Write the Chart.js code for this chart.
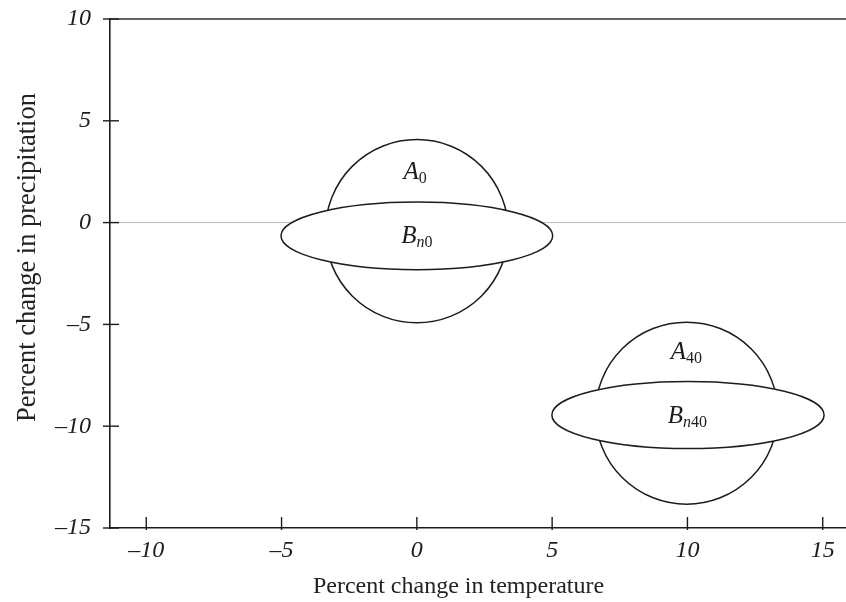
<!DOCTYPE html>
<html>
<head>
<meta charset="utf-8">
<script src="https://cdn.jsdelivr.net/npm/chart.js@4.4.0/dist/chart.umd.min.js"></script>
<style>
  html, body { margin: 0; padding: 0; background: #fff; }
  #wrap { width: 846px; height: 602px; }
</style>
</head>
<body>
<div id="wrap"><canvas id="regions" width="846" height="602"></canvas></div>
<script>
// axis ticks
const xTicks = [-10, -5, 0, 5, 10, 15];
const yTicks = [-15, -10, -5, 0, 5, 10];

// regions: centre and half-extent in data units (temperature %, precipitation %)
const regionLetter = ['A', 'B', 'A', 'B'];
const regionSub = ['0', 'n0', '40', 'n40'];
const centerTemp = [0, 0, 9.97, 10.02];
const centerPrecip = [-0.42, -0.65, -9.36, -9.45];
const halfTemp = [3.38, 5.02, 3.37, 5.03];
const halfPrecip = [4.5, 1.66, 4.47, 1.65];
const labelTemp = [-0.06, 0.0, 9.96, 10.0];
const labelPrecip = [2.54, -0.57, -6.3, -9.42];

const INK = '#1c1c1c';
const SERIF = '"Liberation Serif", "Times New Roman", serif';

function fmtTick(v) {
  return v < 0 ? '\u2013' + Math.abs(v) : String(v);
}

function drawRegionLabel(ctx, cx, cy, letter, sub) {
  const mainFont = 'italic 25px ' + SERIF;
  const subFont = 'italic 16px ' + SERIF;
  const digitFont = '16px ' + SERIF;
  ctx.font = mainFont;
  const wMain = ctx.measureText(letter).width;
  let wSub = 0;
  const parts = sub.split('').map(ch => {
    const f = /[0-9]/.test(ch) ? digitFont : subFont;
    ctx.font = f;
    const w = ctx.measureText(ch).width;
    wSub += w;
    return { ch, f, w };
  });
  let x = cx - (wMain + wSub) / 2;
  const base = cy + 8.5;
  ctx.textAlign = 'left';
  ctx.textBaseline = 'alphabetic';
  ctx.fillStyle = INK;
  ctx.font = mainFont;
  ctx.fillText(letter, x, base);
  x += wMain;
  parts.forEach(p => {
    ctx.font = p.f;
    ctx.fillText(p.ch, x, base + 4);
    x += p.w;
  });
}

const regionPlugin = {
  id: 'regionPlugin',
  afterDatasetsDraw(chart) {
    const { ctx, chartArea, scales: { x, y } } = chart;
    ctx.save();

    // zero precipitation line
    const y0 = y.getPixelForValue(0);
    ctx.strokeStyle = '#bdbdbd';
    ctx.lineWidth = 1;
    ctx.beginPath();
    ctx.moveTo(chartArea.left, y0);
    ctx.lineTo(chartArea.right, y0);
    ctx.stroke();

    // top frame line
    ctx.strokeStyle = '#333';
    ctx.lineWidth = 1.6;
    ctx.beginPath();
    ctx.moveTo(chartArea.left, chartArea.top);
    ctx.lineTo(chartArea.right, chartArea.top);
    ctx.stroke();

    // tick marks, crossing the axes
    ctx.strokeStyle = INK;
    ctx.lineWidth = 1.4;
    xTicks.forEach(v => {
      const px = x.getPixelForValue(v);
      ctx.beginPath();
      ctx.moveTo(px, chartArea.bottom + 2);
      ctx.lineTo(px, chartArea.bottom - 11);
      ctx.stroke();
    });
    yTicks.forEach(v => {
      const py = y.getPixelForValue(v);
      ctx.beginPath();
      ctx.moveTo(chartArea.left - 7, py);
      ctx.lineTo(chartArea.left + 9, py);
      ctx.stroke();
    });

    // circles then flat ellipses on top
    for (let i = 0; i < centerTemp.length; i++) {
      const cx = x.getPixelForValue(centerTemp[i]);
      const cy = y.getPixelForValue(centerPrecip[i]);
      const rx = Math.abs(x.getPixelForValue(centerTemp[i] + halfTemp[i]) - cx);
      const ry = Math.abs(y.getPixelForValue(centerPrecip[i] + halfPrecip[i]) - cy);
      ctx.beginPath();
      ctx.ellipse(cx, cy, rx, ry, 0, 0, Math.PI * 2);
      ctx.fillStyle = '#fff';
      ctx.fill();
      ctx.strokeStyle = INK;
      ctx.lineWidth = 1.5;
      ctx.stroke();
    }

    for (let i = 0; i < regionLetter.length; i++) {
      drawRegionLabel(ctx, x.getPixelForValue(labelTemp[i]), y.getPixelForValue(labelPrecip[i]),
        regionLetter[i], regionSub[i]);
    }

    // axis titles
    ctx.fillStyle = '#222';
    ctx.textAlign = 'center';
    ctx.textBaseline = 'alphabetic';
    ctx.font = '24px ' + SERIF;
    ctx.fillText('Percent change in temperature', 458.5, 593);
    ctx.save();
    ctx.translate(35, 257.5);
    ctx.rotate(-Math.PI / 2);
    ctx.font = '26.5px ' + SERIF;
    ctx.fillText('Percent change in precipitation', 0, 0);
    ctx.restore();

    ctx.restore();
  }
};

const tickFont = { family: SERIF, size: 24, style: 'italic' };

new Chart(document.getElementById('regions'), {
  type: 'scatter',
  data: {
    datasets: [{
      data: centerTemp.map((t, i) => ({ x: t, y: centerPrecip[i] })),
      pointRadius: 0
    }]
  },
  options: {
    responsive: false,
    devicePixelRatio: 1,
    animation: false,
    layout: { autoPadding: false, padding: { top: 19, left: 0, right: 0, bottom: 0 } },
    plugins: { legend: { display: false }, tooltip: { enabled: false } },
    scales: {
      x: {
        type: 'linear',
        min: -11.34,
        max: 15.86,
        afterBuildTicks: s => { s.ticks = xTicks.map(v => ({ value: v })); },
        afterFit: s => {
          s.height = 74;
          s.paddingLeft = 0;
          s.paddingRight = 0;
        },
        grid: { display: false, drawTicks: false },
        border: { display: true, color: INK, width: 1.6 },
        ticks: { font: tickFont, color: '#1e1e1e', padding: 8, maxRotation: 0, autoSkip: false, callback: fmtTick }
      },
      y: {
        type: 'linear',
        min: -15,
        max: 10,
        afterBuildTicks: s => { s.ticks = yTicks.map(v => ({ value: v })); },
        afterFit: s => {
          s.width = 110;
          s.paddingTop = 0;
          s.paddingBottom = 0;
        },
        grid: { display: false, drawTicks: false },
        border: { display: true, color: INK, width: 1.6 },
        ticks: { font: tickFont, color: '#1e1e1e', padding: 19, autoSkip: false, callback: fmtTick }
      }
    }
  },
  plugins: [regionPlugin]
});
</script>
</body>
</html>
